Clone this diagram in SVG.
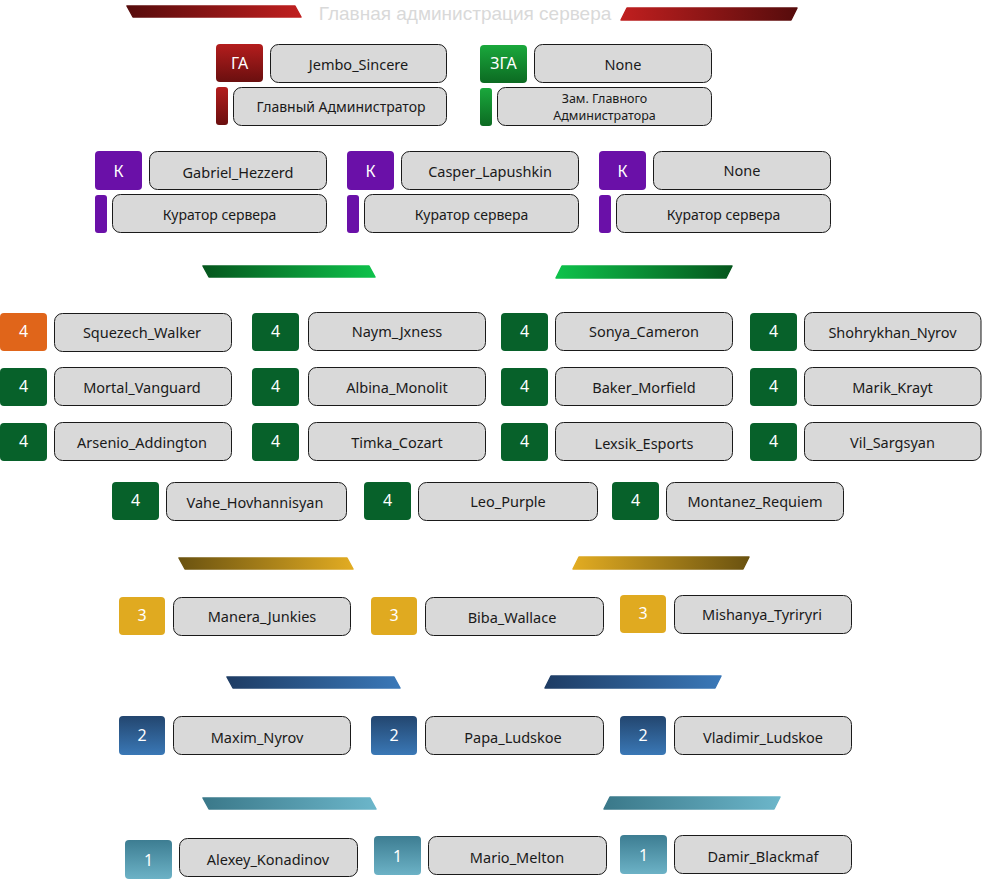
<svg xmlns="http://www.w3.org/2000/svg" width="982" height="880" viewBox="0 0 982 880">
<defs>
<style>
.nm{fill:#d9d9d9;stroke:#1a1a1a;stroke-width:1}
.t{font-family:"Noto Sans","DejaVu Sans",sans-serif;font-size:14.5px;fill:#1a1a1a;text-anchor:middle;dominant-baseline:central}
.s{font-size:14px}
.z{font-size:12.5px}
.bt{font-family:"Noto Sans","DejaVu Sans",sans-serif;font-size:16px;fill:#ffffff;text-anchor:middle;dominant-baseline:central}
.ttl{font-family:"Liberation Sans",Arial,sans-serif;font-size:19px;fill:#d9d9d9;text-anchor:middle;dominant-baseline:central}
.g4{fill:#07612a}
.or{fill:#e0651a}
.y3{fill:#e0aa20}
.b2{fill:url(#gB)}
.c1{fill:url(#gC)}
.pu{fill:#6a10a8}
.rd{fill:url(#gR)}
.gr{fill:url(#gG)}
</style>
<linearGradient id="gR" x1="0" y1="0" x2="0" y2="1"><stop offset="0" stop-color="#b41d1d"/><stop offset="1" stop-color="#6a0f0f"/></linearGradient>
<linearGradient id="gG" x1="0" y1="0" x2="0" y2="1"><stop offset="0" stop-color="#1aa83c"/><stop offset="1" stop-color="#0c6a22"/></linearGradient>
<linearGradient id="gB" x1="0" y1="0" x2="0" y2="1"><stop offset="0" stop-color="#23466f"/><stop offset="1" stop-color="#3a78b6"/></linearGradient>
<linearGradient id="gC" x1="0" y1="0" x2="0" y2="1"><stop offset="0" stop-color="#3d7d92"/><stop offset="1" stop-color="#6cb2c6"/></linearGradient>
<linearGradient id="bRl" x1="0" x2="1"><stop offset="0" stop-color="#560c0c"/><stop offset="1" stop-color="#c01f1f"/></linearGradient>
<linearGradient id="bRr" x1="0" x2="1"><stop offset="0" stop-color="#c01f1f"/><stop offset="1" stop-color="#560c0c"/></linearGradient>
<linearGradient id="bGl" x1="0" x2="1"><stop offset="0" stop-color="#05561d"/><stop offset="1" stop-color="#0ec24b"/></linearGradient>
<linearGradient id="bGr" x1="0" x2="1"><stop offset="0" stop-color="#0ec24b"/><stop offset="1" stop-color="#05561d"/></linearGradient>
<linearGradient id="bYl" x1="0" x2="1"><stop offset="0" stop-color="#6a5210"/><stop offset="1" stop-color="#e2ac22"/></linearGradient>
<linearGradient id="bYr" x1="0" x2="1"><stop offset="0" stop-color="#e2ac22"/><stop offset="1" stop-color="#6a5210"/></linearGradient>
<linearGradient id="bBl" x1="0" x2="1"><stop offset="0" stop-color="#1e3c64"/><stop offset="1" stop-color="#3a78b8"/></linearGradient>
<linearGradient id="bBr" x1="0" x2="1"><stop offset="0" stop-color="#1e3c64"/><stop offset="1" stop-color="#3a78b8"/></linearGradient>
<linearGradient id="bCl" x1="0" x2="1"><stop offset="0" stop-color="#3a7889"/><stop offset="1" stop-color="#6cb6ca"/></linearGradient>
<linearGradient id="bCr" x1="0" x2="1"><stop offset="0" stop-color="#3a7889"/><stop offset="1" stop-color="#6cb6ca"/></linearGradient>
</defs>
<rect width="982" height="880" fill="#ffffff"/>

<g id="banners" stroke-linejoin="round" stroke-width="1.5">
<polygon points="127,6 295,6 301,17 133,17" fill="url(#bRl)" stroke="url(#bRl)"/>
<polygon points="627,8 797,8 791,20 621,20" fill="url(#bRr)" stroke="url(#bRr)"/>
<polygon points="203,266 369,266 375,277 209,277" fill="url(#bGl)" stroke="url(#bGl)"/>
<polygon points="562,266 732,266 726,278 556,278" fill="url(#bGr)" stroke="url(#bGr)"/>
<polygon points="179,558 347,558 353,569 185,569" fill="url(#bYl)" stroke="url(#bYl)"/>
<polygon points="579,557 749,557 743,569 573,569" fill="url(#bYr)" stroke="url(#bYr)"/>
<polygon points="227,677 394,677 400,688 233,688" fill="url(#bBl)" stroke="url(#bBl)"/>
<polygon points="551,676 721,676 715,688 545,688" fill="url(#bBr)" stroke="url(#bBr)"/>
<polygon points="203,798 370,798 376,809 209,809" fill="url(#bCl)" stroke="url(#bCl)"/>
<polygon points="610,797 780,797 774,809 604,809" fill="url(#bCr)" stroke="url(#bCr)"/>
</g>
<text class="ttl" x="465" y="13">Главная администрация сервера</text>

<g id="ga">
<rect class="rd" x="216" y="44" width="47" height="38" rx="4"/><text class="bt" x="239.5" y="63">ГА</text>
<rect class="nm" x="270.5" y="44.5" width="176" height="38" rx="8"/><text class="t" x="358.5" y="64">Jembo_Sincere</text>
<rect class="rd" x="216" y="87" width="12" height="38" rx="3"/>
<rect class="nm" x="233.5" y="87.5" width="213" height="38" rx="8"/><text class="t s" x="341" y="106">Главный Администратор</text>
</g>
<g id="zga">
<rect class="gr" x="480" y="45" width="47" height="38" rx="4"/><text class="bt" x="503.5" y="63">ЗГА</text>
<rect class="nm" x="534.5" y="44.5" width="177" height="38" rx="8"/><text class="t" x="623" y="64">None</text>
<rect class="gr" x="480" y="88" width="12" height="38" rx="3"/>
<rect class="nm" x="497.5" y="87.5" width="214" height="38" rx="8"/><text class="t z" x="604.5" y="98">Зам. Главного</text><text class="t z" x="604.5" y="115">Администратора</text>
</g>

<g id="k1">
<rect class="pu" x="95" y="151" width="47" height="39" rx="4"/><text class="bt" x="118.5" y="171">К</text>
<rect class="nm" x="149.5" y="151.5" width="177" height="38" rx="8"/><text class="t" x="238" y="172">Gabriel_Hezzerd</text>
<rect class="pu" x="95" y="195" width="12" height="38" rx="3"/>
<rect class="nm" x="112.5" y="194.5" width="214" height="38" rx="8"/><text class="t s" x="219.5" y="214">Куратор сервера</text>
</g>
<g id="k2">
<rect class="pu" x="347" y="151" width="47" height="39" rx="4"/><text class="bt" x="370.5" y="171">К</text>
<rect class="nm" x="401.5" y="151.5" width="177" height="38" rx="8"/><text class="t" x="490" y="171">Casper_Lapushkin</text>
<rect class="pu" x="347" y="195" width="12" height="38" rx="3"/>
<rect class="nm" x="364.5" y="194.5" width="214" height="38" rx="8"/><text class="t s" x="471.5" y="214">Куратор сервера</text>
</g>
<g id="k3">
<rect class="pu" x="599" y="151" width="47" height="39" rx="4"/><text class="bt" x="622.5" y="171">К</text>
<rect class="nm" x="653.5" y="151.5" width="177" height="38" rx="8"/><text class="t" x="742" y="170">None</text>
<rect class="pu" x="599" y="195" width="12" height="38" rx="3"/>
<rect class="nm" x="616.5" y="194.5" width="214" height="38" rx="8"/><text class="t s" x="723.5" y="214">Куратор сервера</text>
</g>

<g id="r4-1"><rect class="or" x="0" y="313" width="47" height="38" rx="4"/><text class="bt" x="23.5" y="331">4</text><rect class="nm" x="54.5" y="313.5" width="177" height="38" rx="8"/><text class="t" x="142" y="332">Squezech_Walker</text></g>
<g id="r4-2"><rect class="g4" x="252" y="313" width="47" height="38" rx="4"/><text class="bt" x="275.5" y="331">4</text><rect class="nm" x="308.5" y="312.5" width="177" height="38" rx="8"/><text class="t" x="397" y="331">Naym_Jxness</text></g>
<g id="r4-3"><rect class="g4" x="501" y="313" width="47" height="38" rx="4"/><text class="bt" x="524.5" y="331">4</text><rect class="nm" x="555.5" y="312.5" width="177" height="38" rx="8"/><text class="t" x="644" y="331">Sonya_Cameron</text></g>
<g id="r4-4"><rect class="g4" x="750" y="313" width="47" height="38" rx="4"/><text class="bt" x="773.5" y="331">4</text><rect class="nm" x="804.5" y="312.5" width="176.5" height="38" rx="8"/><text class="t" x="892.5" y="332">Shohrykhan_Nyrov</text></g>

<g id="r4-5"><rect class="g4" x="0" y="368" width="47" height="38" rx="4"/><text class="bt" x="23.5" y="386">4</text><rect class="nm" x="54.5" y="367.5" width="177" height="38" rx="8"/><text class="t" x="142" y="387">Mortal_Vanguard</text></g>
<g id="r4-6"><rect class="g4" x="252" y="368" width="47" height="38" rx="4"/><text class="bt" x="275.5" y="386">4</text><rect class="nm" x="308.5" y="367.5" width="177" height="38" rx="8"/><text class="t" x="397" y="387">Albina_Monolit</text></g>
<g id="r4-7"><rect class="g4" x="501" y="368" width="47" height="38" rx="4"/><text class="bt" x="524.5" y="386">4</text><rect class="nm" x="555.5" y="367.5" width="177" height="38" rx="8"/><text class="t" x="644" y="387">Baker_Morfield</text></g>
<g id="r4-8"><rect class="g4" x="750" y="368" width="47" height="38" rx="4"/><text class="bt" x="773.5" y="386">4</text><rect class="nm" x="804.5" y="367.5" width="176.5" height="38" rx="8"/><text class="t" x="892.5" y="387">Marik_Krayt</text></g>

<g id="r4-9"><rect class="g4" x="0" y="423" width="47" height="38" rx="4"/><text class="bt" x="23.5" y="441">4</text><rect class="nm" x="54.5" y="422.5" width="177" height="38" rx="8"/><text class="t" x="142" y="442">Arsenio_Addington</text></g>
<g id="r4-10"><rect class="g4" x="252" y="423" width="47" height="38" rx="4"/><text class="bt" x="275.5" y="441">4</text><rect class="nm" x="308.5" y="422.5" width="177" height="38" rx="8"/><text class="t" x="397" y="442">Timka_Cozart</text></g>
<g id="r4-11"><rect class="g4" x="501" y="423" width="47" height="38" rx="4"/><text class="bt" x="524.5" y="441">4</text><rect class="nm" x="555.5" y="422.5" width="177" height="38" rx="8"/><text class="t" x="644" y="443">Lexsik_Esports</text></g>
<g id="r4-12"><rect class="g4" x="750" y="423" width="47" height="38" rx="4"/><text class="bt" x="773.5" y="441">4</text><rect class="nm" x="804.5" y="422.5" width="176.5" height="38" rx="8"/><text class="t" x="892.5" y="442">Vil_Sargsyan</text></g>

<g id="r4-13"><rect class="g4" x="112" y="482" width="47" height="38" rx="4"/><text class="bt" x="135.5" y="500">4</text><rect class="nm" x="166.5" y="482.5" width="180" height="38" rx="8"/><text class="t" x="255" y="502">Vahe_Hovhannisyan</text></g>
<g id="r4-14"><rect class="g4" x="364" y="482" width="47" height="38" rx="4"/><text class="bt" x="387.5" y="500">4</text><rect class="nm" x="418.5" y="482.5" width="179" height="38" rx="8"/><text class="t" x="508" y="501">Leo_Purple</text></g>
<g id="r4-15"><rect class="g4" x="612" y="482" width="47" height="38" rx="4"/><text class="bt" x="635.5" y="500">4</text><rect class="nm" x="666.5" y="482.5" width="177" height="38" rx="8"/><text class="t" x="755" y="501">Montanez_Requiem</text></g>

<g id="r3-1"><rect class="y3" x="119" y="597" width="46" height="38" rx="4"/><text class="bt" x="142" y="615">3</text><rect class="nm" x="173.5" y="597.5" width="177" height="38" rx="8"/><text class="t" x="262" y="616">Manera_Junkies</text></g>
<g id="r3-2"><rect class="y3" x="371" y="597" width="46" height="38" rx="4"/><text class="bt" x="394" y="615">3</text><rect class="nm" x="425.5" y="597.5" width="178" height="38" rx="8"/><text class="t" x="512" y="617">Biba_Wallace</text></g>
<g id="r3-3"><rect class="y3" x="620" y="595" width="46" height="38" rx="4"/><text class="bt" x="643" y="613">3</text><rect class="nm" x="674.5" y="595.5" width="177" height="38" rx="8"/><text class="t" x="762" y="614">Mishanya_Tyriryri</text></g>

<g id="r2-1"><rect class="b2" x="119" y="716" width="46" height="39" rx="4"/><text class="bt" x="142" y="735">2</text><rect class="nm" x="173.5" y="716.5" width="177" height="38" rx="8"/><text class="t" x="257" y="737">Maxim_Nyrov</text></g>
<g id="r2-2"><rect class="b2" x="371" y="716" width="46" height="39" rx="4"/><text class="bt" x="394" y="735">2</text><rect class="nm" x="425.5" y="716.5" width="178" height="38" rx="8"/><text class="t" x="513" y="737">Papa_Ludskoe</text></g>
<g id="r2-3"><rect class="b2" x="620" y="716" width="46" height="39" rx="4"/><text class="bt" x="643" y="735">2</text><rect class="nm" x="674.5" y="716.5" width="177" height="38" rx="8"/><text class="t" x="763" y="737">Vladimir_Ludskoe</text></g>

<g id="r1-1"><rect class="c1" x="125" y="840" width="47" height="39" rx="4"/><text class="bt" x="148.5" y="860">1</text><rect class="nm" x="179.5" y="838.5" width="178" height="38" rx="8"/><text class="t" x="268" y="859">Alexey_Konadinov</text></g>
<g id="r1-2"><rect class="c1" x="374" y="836" width="47" height="39" rx="4"/><text class="bt" x="397.5" y="856">1</text><rect class="nm" x="428.5" y="836.5" width="178" height="38" rx="8"/><text class="t" x="517" y="857">Mario_Melton</text></g>
<g id="r1-3"><rect class="c1" x="620" y="835" width="47" height="39" rx="4"/><text class="bt" x="643.5" y="855">1</text><rect class="nm" x="674.5" y="835.5" width="177" height="38" rx="8"/><text class="t" x="763" y="856">Damir_Blackmaf</text></g>

<g id="connectors"/>
</svg>
